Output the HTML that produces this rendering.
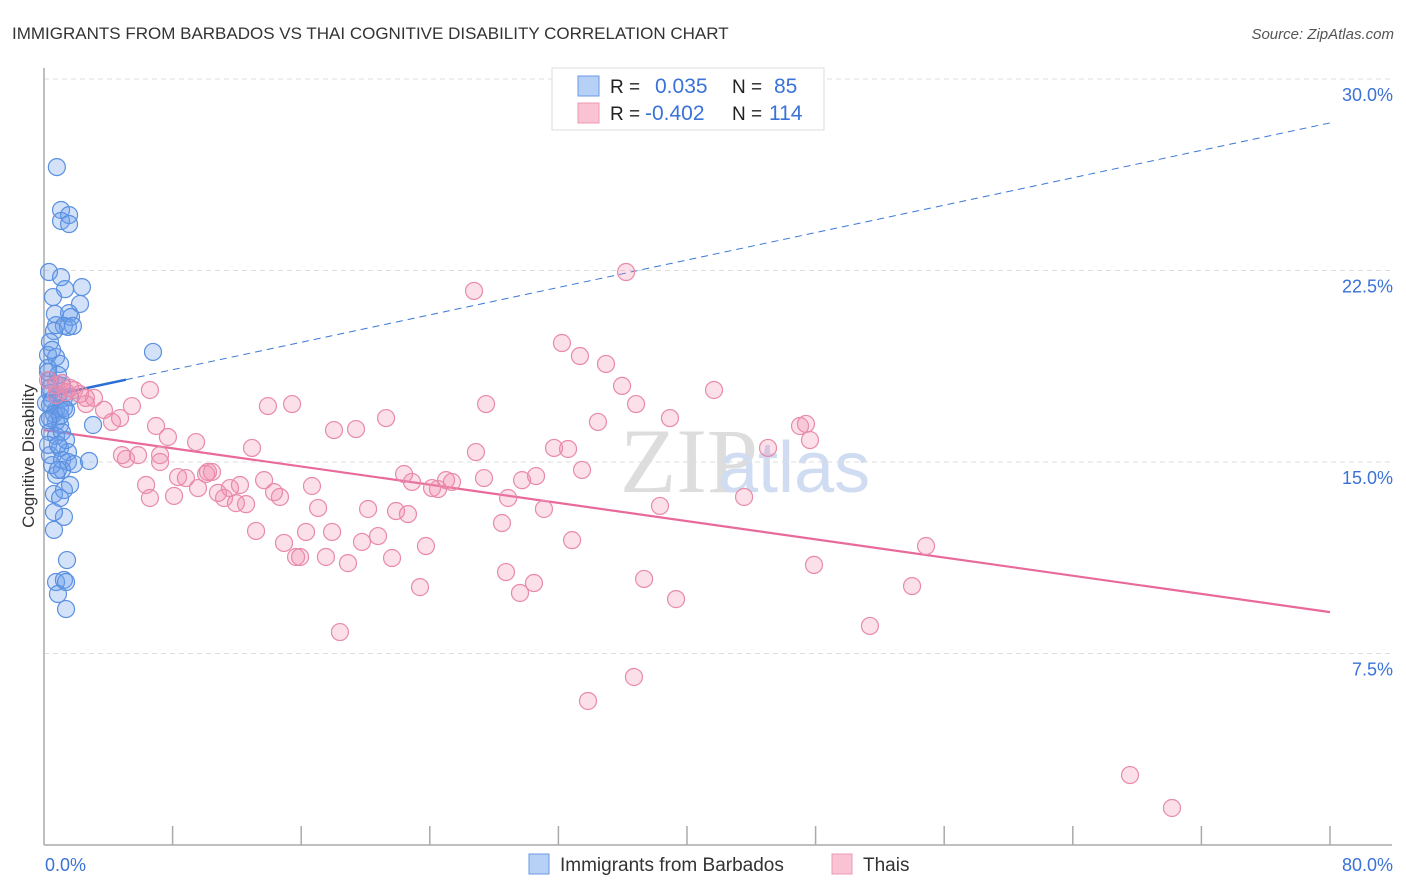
<!DOCTYPE html>
<html><head><meta charset="utf-8"><style>
body{margin:0;background:#fff;font-family:"Liberation Sans",sans-serif;}
svg{display:block}
</style></head><body>
<svg id="chart" width="1406" height="892" xmlns="http://www.w3.org/2000/svg">
<text x="12" y="39" font-size="17" fill="#333">IMMIGRANTS FROM BARBADOS VS THAI COGNITIVE DISABILITY CORRELATION CHART</text>
<text x="1394" y="39" font-size="15" fill="#555" font-style="italic" text-anchor="end">Source: ZipAtlas.com</text>
<text x="620" y="492" font-size="92" fill="#ddd" font-family="Liberation Serif">ZIP</text>
<text x="718" y="492" font-size="72" fill="#cfdcf2">atlas</text>
<g id="grid"></g><g id="axes"></g><g id="trends"></g><g id="pts"></g>
<text transform="translate(34,456) rotate(-90)" font-size="17" fill="#333" text-anchor="middle">Cognitive Disability</text>
<g>
<rect x="552" y="68" width="272" height="62" fill="#fff" stroke="#ddd"/>
<rect x="578" y="76" width="21" height="20" fill="#b7d0f5" stroke="#6a9ae6"/>
<rect x="578" y="103" width="21" height="20" fill="#f9c3d3" stroke="#ec9ab3"/>
<text x="610" y="93" font-size="19" fill="#222">R =</text><text x="655" y="93" font-size="21" fill="#3a72d8">0.035</text>
<text x="732" y="93" font-size="19" fill="#222">N =</text><text x="774" y="93" font-size="21" fill="#3a72d8">85</text>
<text x="610" y="120" font-size="19" fill="#222">R =</text><text x="645" y="120" font-size="21" fill="#3a72d8">-0.402</text>
<text x="732" y="120" font-size="19" fill="#222">N =</text><text x="769" y="120" font-size="21" fill="#3a72d8">114</text>
</g>
<g>
<rect x="529" y="854" width="20" height="20" fill="#b7d0f5" stroke="#6a9ae6"/>
<text x="560" y="871" font-size="19" fill="#333">Immigrants from Barbados</text>
<rect x="832" y="854" width="20" height="20" fill="#f9c3d3" stroke="#ec9ab3"/>
<text x="863" y="871" font-size="19" fill="#333">Thais</text>
</g>
</svg>
<script>
const yTicks=[7.5,15,22.5,30];
const yTickLabels=["7.5%","15.0%","22.5%","30.0%"];
const xTickLabels=["0.0%","80.0%"];
const blueX=[0.8,1.06,1.06,1.56,1.56,0.31,1.06,1.31,2.36,0.56,2.24,0.68,1.56,1.68,0.75,1.24,1.49,1.8,0.62,6.78,0.25,0.75,1.0,0.25,0.37,0.75,1.12,0.37,0.87,1.24,0.37,0.75,1.0,1.24,0.37,0.75,1.0,3.05,0.37,0.75,1.12,0.37,1.0,1.49,1.12,1.49,1.87,2.8,0.75,1.12,0.62,1.24,1.62,1.24,0.62,1.43,0.75,1.24,1.37,0.87,1.37,0.37,0.5,0.37,0.5,0.62,1.0,1.37,0.25,0.5,0.87,1.0,0.62,0.25,0.87,0.12,0.25,0.87,1.62,1.37];
const blueY=[26.55,24.87,24.44,24.67,24.32,22.44,22.24,21.77,21.85,21.46,21.19,20.8,20.83,20.68,20.36,20.33,20.29,20.33,20.13,19.31,19.19,19.11,18.84,18.68,18.21,18.05,17.98,17.7,17.58,17.51,17.23,17.04,17.11,17.11,16.72,16.57,16.45,16.45,16.17,16.02,16.17,15.27,15.55,15.39,15.08,15.0,14.92,15.04,14.49,14.69,13.75,13.9,14.1,12.85,12.34,11.16,10.3,10.38,10.3,9.83,9.24,19.7,19.39,17.9,17.43,16.88,16.8,15.86,15.67,14.88,14.69,13.59,13.04,18.52,18.41,17.31,16.64,15.67,17.54,17.04];
const pinkX=[0.25,0.75,1.12,1.62,1.87,2.24,2.61,3.11,0.75,1.37,2.61,3.73,4.23,4.73,5.47,5.1,5.85,6.35,6.59,6.97,7.22,7.71,8.09,8.34,8.83,9.46,9.58,10.08,10.45,10.82,11.2,11.57,11.94,12.19,12.57,12.94,13.19,13.69,13.93,14.31,14.68,14.93,15.43,15.68,15.93,16.3,16.67,17.05,17.54,17.92,18.04,18.41,18.91,19.41,19.78,20.16,20.78,21.28,21.65,21.9,22.64,22.4,22.89,23.39,23.76,24.14,24.51,25.01,25.38,26.75,26.87,27.37,27.5,28.49,28.74,28.87,29.61,29.74,30.48,30.61,31.1,31.73,32.22,32.6,32.85,33.34,33.47,33.84,34.46,34.96,35.96,36.21,36.7,36.83,37.33,38.32,38.94,39.32,41.68,43.55,45.04,47.03,47.4,47.65,47.9,51.38,54.0,54.87,67.56,70.17,6.59,7.22,4.85,10.2];
const pinkY=[18.21,18.01,18.09,17.9,17.82,17.66,17.51,17.51,17.62,17.74,17.27,17.04,16.57,16.72,17.19,15.12,15.27,14.1,13.59,16.41,15.27,15.98,13.67,14.41,14.37,15.78,13.98,14.53,14.61,13.79,13.59,13.98,13.39,14.1,13.35,15.55,12.3,14.29,17.19,13.82,13.63,11.83,17.27,11.28,11.28,12.26,14.06,13.2,11.28,12.26,16.25,8.34,11.04,16.29,11.87,13.16,12.1,16.72,11.24,13.08,12.96,14.53,14.22,10.1,11.71,13.98,13.94,14.29,14.22,21.7,15.39,14.37,17.27,12.61,10.69,13.59,9.87,14.29,10.26,14.45,13.16,15.55,19.66,15.51,11.94,19.15,14.69,5.64,16.57,18.84,17.98,22.44,6.58,17.27,10.42,13.28,16.72,9.63,17.82,13.63,15.55,16.41,16.49,15.86,10.97,8.58,10.14,11.71,2.74,1.45,17.82,15.0,15.27,14.61];
const blueTrend=[17.54,28.28]; // value at x=0 and x=80
const pinkTrend=[16.25,9.12];
const blueSolidEnd=5.1;

const X0=44,X1=1330,YB=845,PXPER=191.5/7.5;
function xs(v){return X0+(v/80)*(X1-X0);}
function ys(v){return YB-v*PXPER;}
const NS="http://www.w3.org/2000/svg";
function mk(tag,attrs,parent){const e=document.createElementNS(NS,tag);for(const k in attrs)e.setAttribute(k,attrs[k]);document.getElementById(parent).appendChild(e);return e;}

yTicks.forEach((t,i)=>{
  const g=mk('line',{x1:X0,x2:1392,y1:ys(t),y2:ys(t),stroke:'#ddd','stroke-dasharray':'5,4'},'grid');
  
  
  const l=mk('text',{x:1393,y:ys(t)+22,'font-size':18,fill:'#3a72d8','text-anchor':'end'},'grid');
  l.textContent=yTickLabels[i];
  
  
});
let a=mk('line',{x1:X0,x2:X0,y1:68,y2:YB,stroke:'#aaa','stroke-width':1.5},'axes');


a=mk('line',{x1:X0,x2:1392,y1:YB,y2:YB,stroke:'#aaa','stroke-width':1.5},'axes');


for(let i=1;i<=10;i++){
  const t=mk('line',{x1:xs(i*8),x2:xs(i*8),y1:826,y2:YB,stroke:'#aaa','stroke-width':1.5},'axes');
  
  
}
let xl=mk('text',{x:45,y:871,'font-size':18,fill:'#3a72d8'},'axes');xl.textContent=xTickLabels[0];


xl=mk('text',{x:1393,y:871,'font-size':18,fill:'#3a72d8','text-anchor':'end'},'axes');xl.textContent=xTickLabels[1];



function trendAt(tr,x){return tr[0]+(tr[1]-tr[0])*x/80;}
function pts(X,Y,fill,stroke,name){
  X.forEach((x,i)=>{
    const c=mk('circle',{cx:xs(x),cy:ys(Y[i]),r:8.5,fill:fill,stroke:stroke,'stroke-width':1.2},'pts');
    
    
  });
}
pts(blueX,blueY,'rgba(110,160,235,0.3)','#5a90e0','barbados-point');
pts(pinkX,pinkY,'rgba(240,140,175,0.28)','#e88aa8','thai-point');

let t=mk('line',{x1:xs(blueSolidEnd),y1:ys(trendAt(blueTrend,blueSolidEnd)),x2:xs(80),y2:ys(trendAt(blueTrend,80)),stroke:'#3a78d8','stroke-width':1,'stroke-dasharray':'7,5'},'trends');


t=mk('line',{x1:xs(0),y1:ys(trendAt(blueTrend,0)),x2:xs(blueSolidEnd),y2:ys(trendAt(blueTrend,blueSolidEnd)),stroke:'#2a6fd6','stroke-width':2.5},'trends');


t=mk('line',{x1:xs(0),y1:ys(trendAt(pinkTrend,0)),x2:xs(80),y2:ys(trendAt(pinkTrend,80)),stroke:'#e8699a','stroke-width':2.2},'trends');


</script>
</body></html>
